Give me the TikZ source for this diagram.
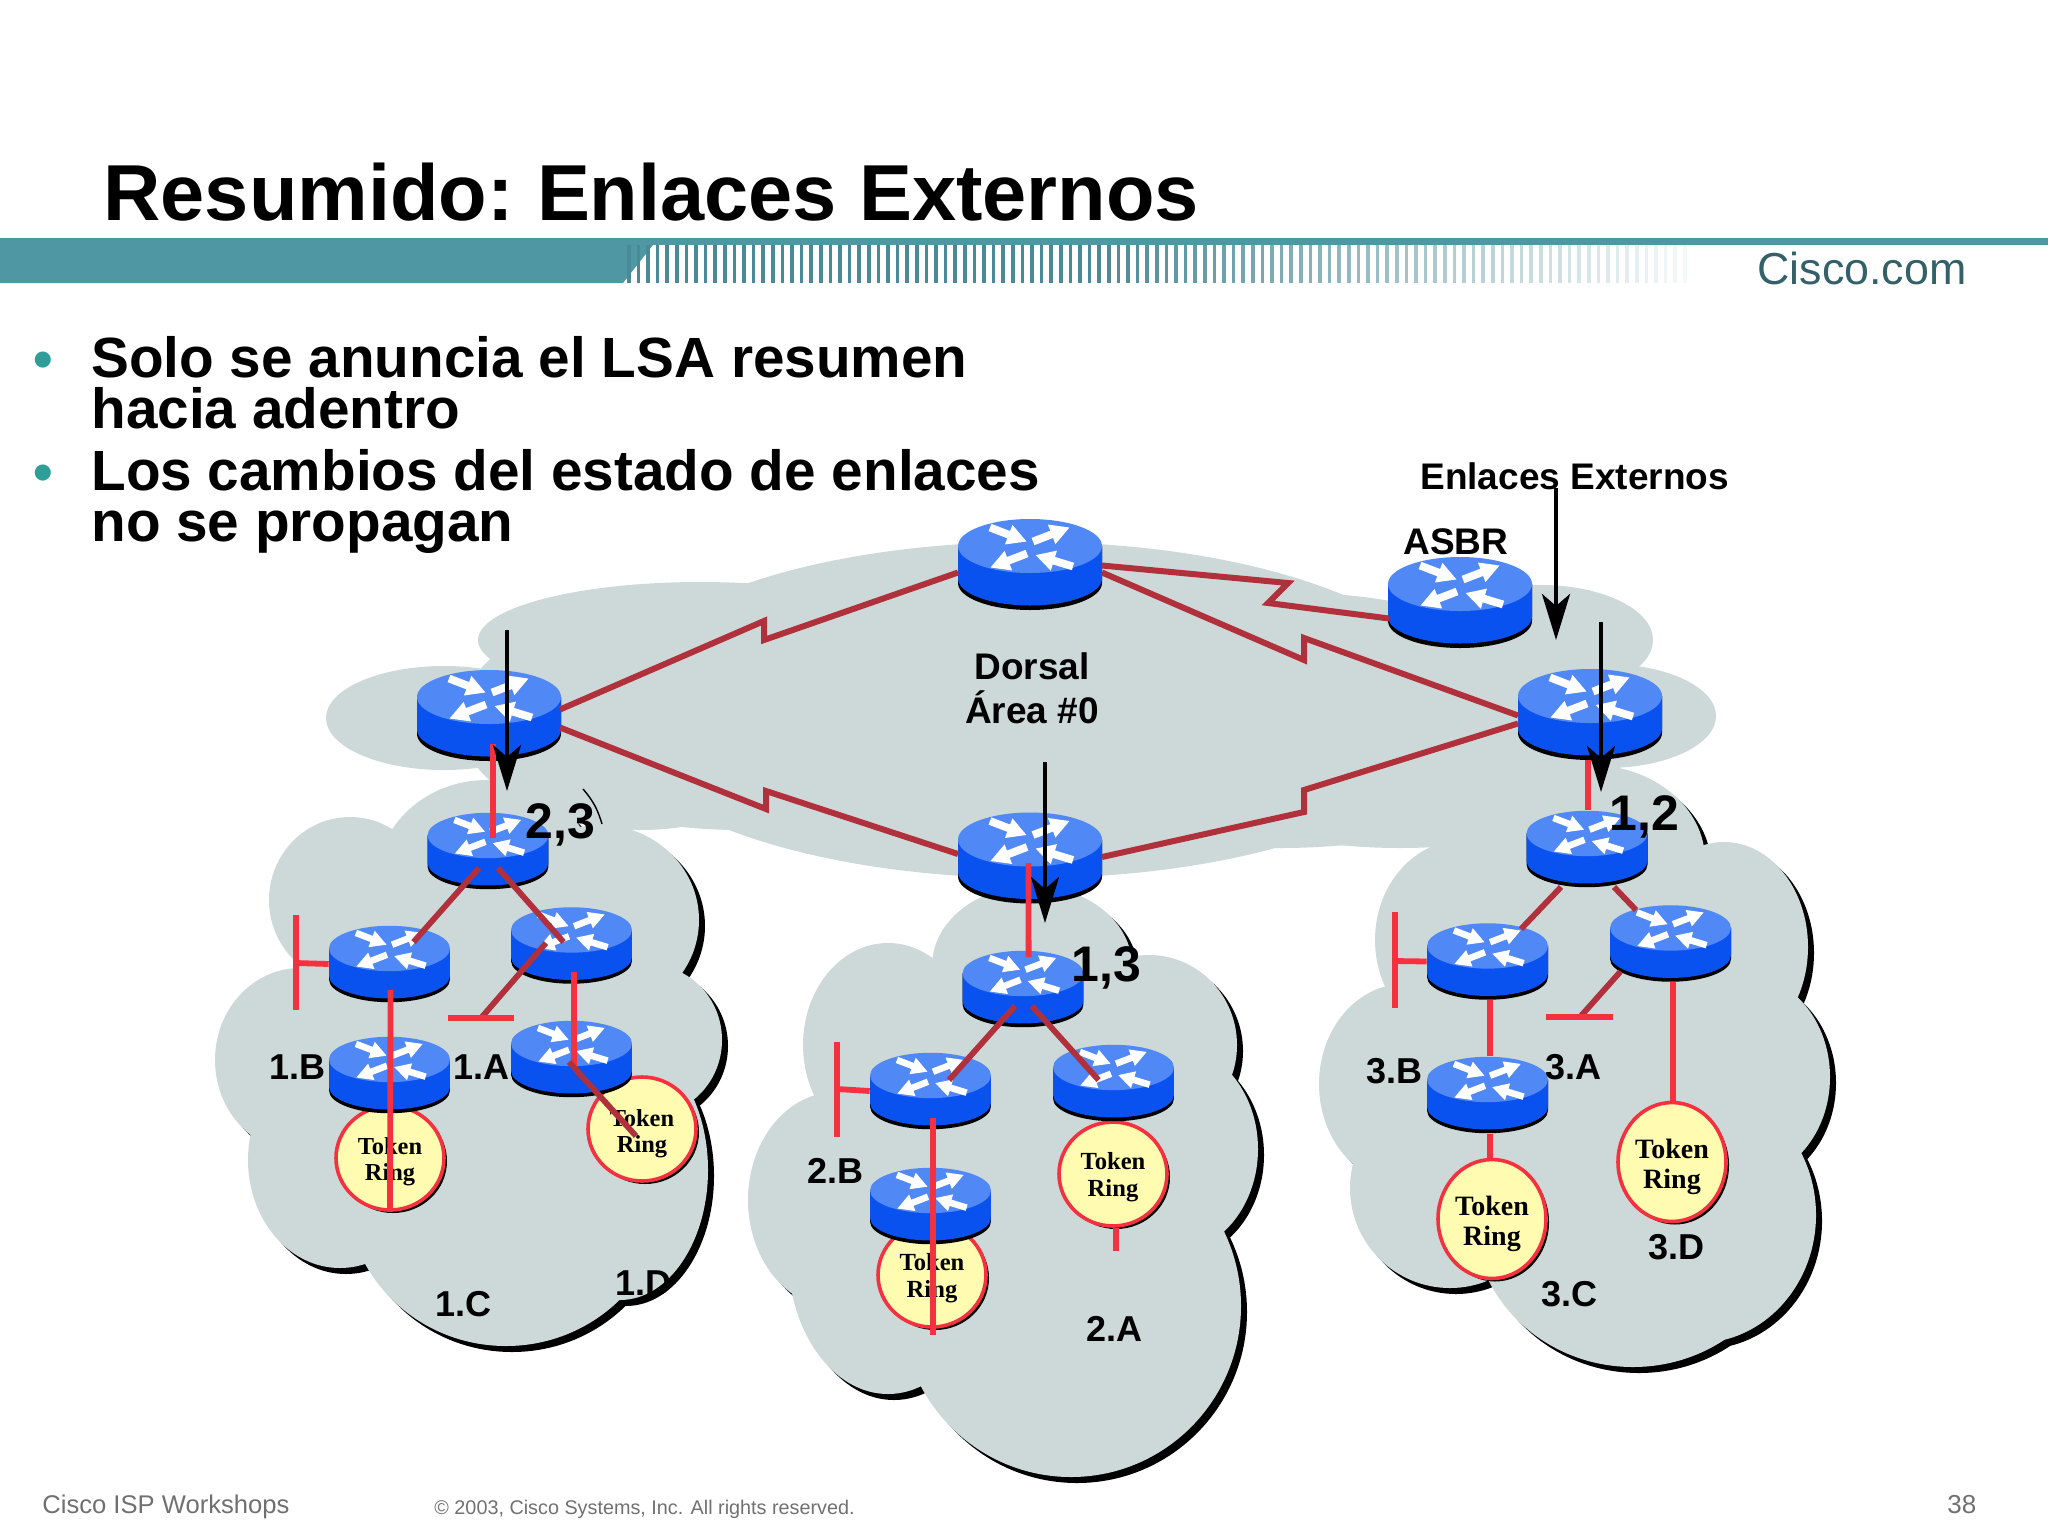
\documentclass[tikz,border=0pt]{standalone}
\usepackage{fontspec}
\setmainfont{Liberation Sans}
\newfontfamily\ringfont{Liberation Serif}
\usetikzlibrary{arrows.meta, calc, shapes.geometric, shadows}

\definecolor{barteal}{HTML}{5097A4}
\definecolor{stripeteal}{HTML}{4A8A96}
\definecolor{bullteal}{HTML}{2F9E98}
\definecolor{cloudgrey}{HTML}{CDD8D8}
\definecolor{routertop}{HTML}{5088F5}
\definecolor{routerbody}{HTML}{0A52F0}
\definecolor{wandark}{HTML}{B0303C}
\definecolor{lanred}{HTML}{F5303F}
\definecolor{ringyellow}{HTML}{FFFBB0}
\definecolor{footgrey}{HTML}{707070}

\tikzset{
	wan/.style={line width=3pt, wandark, line join=miter},
	lan/.style={line width=2.9pt, lanred},
	lanlink/.style={line width=2.9pt, wandark},
	flood/.style={line width=2.3pt, black, -{Stealth[length=23pt, width=14pt, inset=6pt]}},
	tag/.style={font=\fontsize{18}{20}\selectfont\bfseries, anchor=base west, inner sep=0pt},
	tagbig/.style={font=\fontsize{18.5}{20}\selectfont\bfseries, anchor=base west, inner sep=0pt},
	cost/.style={font=\fontsize{25}{27}\selectfont\bfseries, anchor=base west, inner sep=0pt},
	item/.style={font=\fontsize{28.35}{25.5}\selectfont\bfseries, anchor=north west, inner sep=0pt, align=left},
	foot/.style={anchor=base west, inner sep=0pt, footgrey},
	routerbox/.style={minimum width=72pt, minimum height=45.5pt, inner sep=0pt, transform shape},
	ring/.style={ellipse, draw=lanred, line width=1.8pt, fill=ringyellow, inner sep=0pt, align=center,
		drop shadow={shadow xshift=1.5pt, shadow yshift=-1.5pt, fill=black, opacity=1}},
	ringsmall/.style={ring, minimum width=54pt, minimum height=52pt, font=\ringfont\bfseries\fontsize{12.2}{13}\selectfont},
	ringmid/.style={ring, minimum width=54pt, minimum height=52pt, font=\ringfont\bfseries\fontsize{12.3}{13.6}\selectfont},
	ringbig/.style={ring, minimum width=54pt, minimum height=59.5pt, font=\ringfont\bfseries\fontsize{14}{15}\selectfont}
}

% name, x, y, scale
\newcommand{\router}[4]{
	\begin{scope}[shift={(#2,#3)}, scale=#4]
		\fill[black] (-72,-18.5) -- (-72,18.5) arc [start angle=180, end angle=360, x radius=72, y radius=-27] -- (72,-18.5) -- cycle;
		\fill[routerbody] (-72,-18.5) -- (-72,14) arc [start angle=180, end angle=360, x radius=72, y radius=-27] -- (72,-18.5) -- cycle;
		\fill[routertop] (0,-18.5) ellipse [x radius=72, y radius=27];
		\foreach \ax/\ay/\ang in {-40/-37/-21, 3/-23/21, -3/-11/201, 43/2/163} {
			\fill[white, shift={(\ax,\ay)}, rotate=\ang] (0,-3.9) -- (20,-3.9) -- (20,-10.5) -- (39,0) -- (20,10.5) -- (20,3.9) -- (0,3.9) -- cycle;
		}
		\node (#1) at (0,0) [routerbox] {};
	\end{scope}
}

% list of x/y/xradius/yradius
\newcommand{\cloud}[1]{
	\foreach \cx/\cy/\rx/\ry in {#1} {
		\fill[black] (\cx+6,\cy+6) ellipse [x radius=\rx, y radius=\ry];
	}
	\foreach \cx/\cy/\rx/\ry in {#1} {
		\fill[cloudgrey] (\cx,\cy) ellipse [x radius=\rx, y radius=\ry];
	}
}

\begin{document}
\begin{tikzpicture}[x=0.5pt, y=-0.5pt]
	\useasboundingbox (0,0) rectangle (2048,1536);

	% header
	\node (title) at (103,220) [anchor=base west, inner sep=0pt, font=\fontsize{39.7}{42}\selectfont\bfseries] {Resumido:\kern-3pt{} Enlaces Externos};
	\fill[barteal] (0,238) rectangle (2048,245);
	\fill[barteal] (0,245) -- (653,245) -- (623,283) -- (0,283) -- cycle;
	\foreach \i in {0,...,110} {
		\pgfmathsetmacro{\sx}{627+9.6*\i}
		\pgfmathsetmacro{\so}{min(1,max(0.05,(1720-\sx)/620))}
		\fill[stripeteal, opacity=\so] (\sx,245) rectangle (\sx+3.6,283);
	}
	\node (cisco) at (1757,284) [anchor=base west, inner sep=0pt, font=\fontsize{22.4}{24}\selectfont, color=stripeteal!70!black] {Cisco.com};

	% text
	\node (bull1) at (33,378) [anchor=base west, inner sep=0pt, bullteal, font=\fontsize{28}{30}\selectfont\bfseries] {•};
	\node (bull2) at (33,491) [anchor=base west, inner sep=0pt, bullteal, font=\fontsize{28}{30}\selectfont\bfseries] {•};
	\node (item1) at (91,336) [item] {Solo se anuncia el LSA resumen\\hacia adentro};
	\node (item2) at (91,449) [item] {Los cambios del estado de enlaces\\no se propagan};

	% clouds
	\cloud{350/900/81/83, 300/1060/85/92, 340/1160/92/108, 506/1190/160/156, 620/1170/88/130, 650/1040/72/75, 600/920/99/95, 487/880/110/100, 480/1050/200/200}
	\cloud{888/1045/85/102, 836/1200/88/108, 888/1254/100/140, 1071/1306/170/171, 1169/1149/89/105, 1149/1045/88/90, 1123/1306/115/128, 1032/966/100/80, 1030/1180/190/230}
	\cloud{1463/940/88/100, 1404/1084/85/100, 1450/1188/100/100, 1633/1215/160/152, 1744/1077/86/102, 1724/947/84/105, 1698/1215/118/128, 1590/860/115/95, 1580/1050/200/220}

	% backbone
	\foreach \cx/\cy/\rx/\ry in {1030/710/430/168, 444/718/118/52, 1606/716/110/52, 1541/640/112/55, 700/640/222/58, 740/760/200/70, 640/720/180/110, 1280/720/300/128, 1400/770/220/78} {
		\fill[cloudgrey] (\cx,\cy) ellipse [x radius=\rx, y radius=\ry];
	}
	\coordinate (slivertop) at (583,789);
	\coordinate (sliverend) at (602,824);
	\draw[black, line width=0.7pt] (slivertop) to[bend left=12] (sliverend);

	% rings
	\node (ringb1) at (390,1158) [ringsmall] {\rule{0pt}{12pt}Token\\Ring};
	\node (ringa1) at (642,1129) [ringsmall] {\rule{0pt}{13pt}Token\\Ring};
	\node (ringa2) at (1113,1174) [ringmid] {\rule{0pt}{12pt}Token\\Ring};
	\node (ringb2) at (932,1275) [ringmid] {\rule{0pt}{12pt}Token\\Ring};
	\node (ringb3) at (1492,1219) [ringbig] {\rule{0pt}{15pt}Token\\Ring};
	\node (ringa3) at (1672,1162) [ringbig] {\rule{0pt}{15pt}Token\\Ring};

	% routers
	\router{rzero}{1030}{564.5}{1}
	\router{asbr}{1460}{602.5}{1}
	\router{rright}{1590}{714.5}{1}
	\router{rleft}{489}{715.5}{1}
	\router{rmid}{1030}{858}{1}

	\router{aone}{488}{851}{0.84}
	\router{bone}{389.5}{964}{0.84}
	\router{cone}{571.5}{945.5}{0.84}
	\router{done}{389.5}{1075}{0.84}
	\router{eone}{571.5}{1059}{0.84}

	\router{atwo}{1023}{989}{0.84}
	\router{btwo}{930.5}{1091}{0.84}
	\router{ctwo}{1113.5}{1083}{0.84}
	\router{dtwo}{930.5}{1206}{0.84}

	\router{athree}{1587}{849}{0.84}
	\router{bthree}{1487.5}{961.5}{0.84}
	\router{cthree}{1670.5}{943.5}{0.84}
	\router{dthree}{1487.5}{1095}{0.84}

	% backbone links
	\draw[wan] ($(rzero)+(-72,8)$) -- (764,640) -- (764,621) -- ($(rleft)+(71,-6)$);
	\draw[wan] ($(rleft)+(71,12)$) -- (766,809) -- (766,791) -- ($(rmid)+(-72,-4)$);
	\draw[wan] ($(rzero)+(72,1)$) -- (1288,583) -- (1268,603) -- ($(asbr)+(-71,16)$);
	\draw[wan] ($(rzero)+(72,8)$) -- (1304,660) -- (1304,638) -- ($(rright)+(-72,1)$);
	\draw[wan] ($(rmid)+(72,-1)$) -- (1304,812) -- (1304,790) -- ($(rright)+(-72,9)$);

	% area 1
	\draw[lan] ($(rleft)+(4,28.5)$) to ($(aone)+(5,-13)$);
	\draw[lanlink] ($(aone)+(-9,17)$) to ($(bone)+(24,-22)$);
	\draw[lanlink] ($(aone)+(10,17)$) to ($(cone)+(-8,-3.5)$);
	\coordinate (stubb1) at (296,963);
	\coordinate (barb1t) at (296,915);
	\coordinate (barb1b) at (296,1010);
	\draw[lan] (bone.west) to (stubb1);
	\draw[lan] (barb1t) to (barb1b);
	\coordinate (stuba1) at (481,1018);
	\coordinate (bara1l) at (448,1018);
	\coordinate (bara1r) at (514,1018);
	\draw[lanlink] ($(cone)+(-25.5,-2.5)$) to (stuba1);
	\draw[lan] (bara1l) to (bara1r);
	\draw[lan] ($(bone)+(1,26)$) to (ringb1.south);
	\draw[lan] ($(cone)+(2.5,26.5)$) to ($(eone)+(2.5,6)$);
	\draw[lanlink] ($(eone)+(-2.5,3)$) to ($(ringa1)+(-6,7)$);

	% area 2
	\draw[lan] ($(rmid)+(-1.5,5)$) to ($(atwo)+(5.6,-32)$);
	\draw[lanlink] ($(atwo)+(-8,17)$) to ($(btwo)+(18.5,-11)$);
	\draw[lanlink] ($(atwo)+(9,17)$) to ($(ctwo)+(-15,-3)$);
	\coordinate (stubb2) at (837,1089);
	\coordinate (barb2t) at (837,1042);
	\coordinate (barb2b) at (837,1137);
	\draw[lan] (btwo.west) to (stubb2);
	\draw[lan] (barb2t) to (barb2b);
	\coordinate (tailb2) at (933,1335);
	\draw[lan] ($(btwo)+(2.5,27)$) to (tailb2);
	\coordinate (taila2) at (1116,1251);
	\draw[lan] ($(ringa2.south)+(3,0)$) to (taila2);

	% area 3
	\draw[lan] ($(rright.south)+(-2,0)$) to ($(athree.north)+(1,0)$);
	\draw[lanlink] ($(athree)+(-26,38)$) to ($(bthree)+(33.5,-32.5)$);
	\draw[lanlink] ($(athree)+(27,38)$) to ($(cthree)+(-34.5,-33.5)$);
	\coordinate (stubb3) at (1395,961);
	\coordinate (barb3t) at (1395,912);
	\coordinate (barb3b) at (1395,1008);
	\draw[lan] (bthree.west) to (stubb3);
	\draw[lan] (barb3t) to (barb3b);
	\coordinate (stuba3) at (1580,1017);
	\coordinate (bara3l) at (1546,1017);
	\coordinate (bara3r) at (1613,1017);
	\draw[lanlink] ($(cthree)+(-50,28)$) to (stuba3);
	\draw[lan] (bara3l) to (bara3r);
	\draw[lan] ($(bthree.south)+(2.5,0)$) to ($(dthree.north)+(2.5,0)$);
	\draw[lan] ($(dthree.south)+(2.5,0)$) to ($(ringb3.north)+(-2,0)$);
	\draw[lan] ($(cthree.south)+(2.5,0)$) to ($(ringa3.north)+(1,0)$);

	% flooding arrows
	\coordinate (fromleft) at (507,630);
	\coordinate (toleft) at (507,791);
	\coordinate (fromext) at (1556,488);
	\coordinate (toext) at (1556,640);
	\coordinate (fromright) at (1601,622);
	\coordinate (toright) at (1601,792);
	\coordinate (frommid) at (1045,762);
	\coordinate (tomid) at (1045,923);
	\draw[flood] (fromleft) to (toleft);
	\draw[flood] (fromext) to (toext);
	\draw[flood] (fromright) to (toright);
	\draw[flood] (frommid) to (tomid);

	% labels
	\node (cost1) at (525,838) [cost] {2,3};
	\node (cost2) at (1071,981) [cost] {1,3};
	\node (cost3) at (1609,830) [cost] {1,2};
	\node (lb1) at (269,1079) [tag] {1.B};
	\node (la1) at (453,1079) [tag] {1.A};
	\node (lc1) at (435,1316) [tag] {1.C};
	\node (ld1) at (615,1295) [tag] {1.D};
	\node (lb2) at (807,1183) [tag] {2.B};
	\node (la2) at (1086,1341) [tag] {2.A};
	\node (lb3) at (1366,1083) [tag] {3.B};
	\node (la3) at (1545,1079) [tag] {3.A};
	\node (lc3) at (1541,1306) [tag] {3.C};
	\node (ld3) at (1648,1259) [tag] {3.D};
	\node (dorsal) at (1032,679) [tagbig, anchor=base] {Dorsal};
	\node (area) at (1032,723) [tagbig, anchor=base] {Área \#0};
	\node (asbrtag) at (1403,554) [tagbig] {ASBR};
	\node (exttag) at (1420,489) [tagbig] {Enlaces Externos};

	% footer
	\node (footl) at (42,1513) [foot, font=\fontsize{12.8}{15}\selectfont] {Cisco ISP Workshops};
	\node (footc) at (434,1514) [foot, font=\fontsize{9.9}{12}\selectfont] {© 2003, Cisco Systems, Inc. All rights reserved.};
	\node (footn) at (1947,1513) [foot, font=\fontsize{13}{15}\selectfont] {38};
\end{tikzpicture}
\end{document}
